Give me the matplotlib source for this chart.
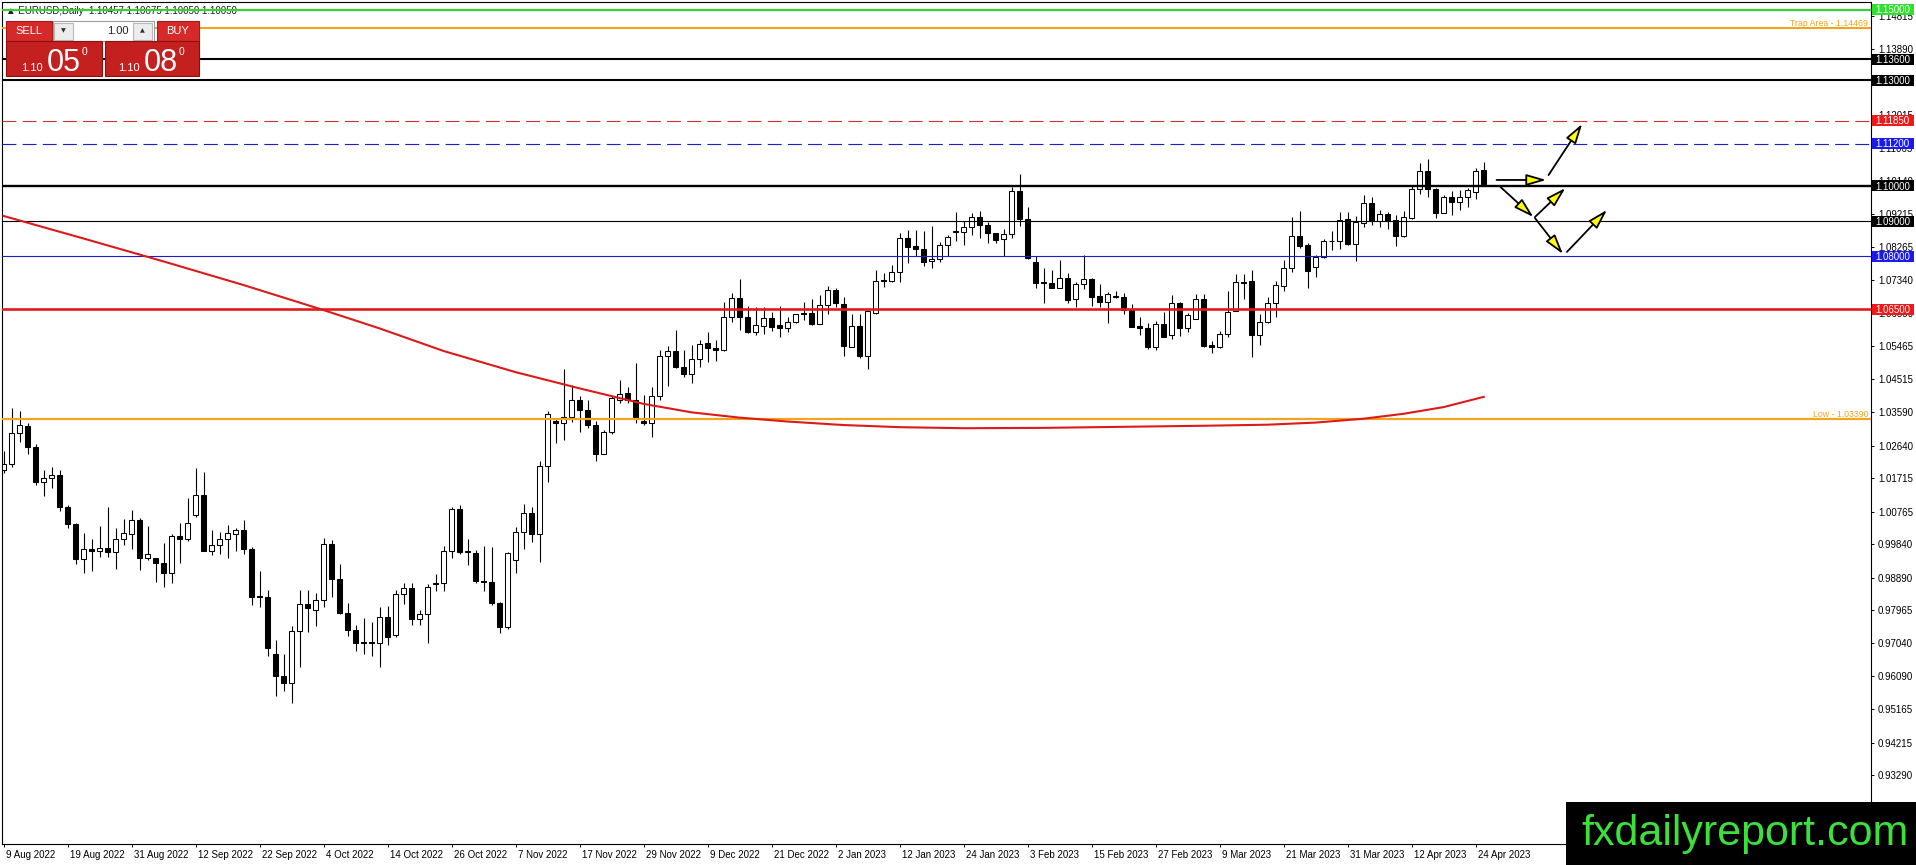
import matplotlib
matplotlib.use("Agg")
import matplotlib.pyplot as plt
import matplotlib.transforms as mtransforms
from matplotlib.patches import Rectangle, FancyArrowPatch
import numpy as np

plt.rcParams['font.family'] = ['Liberation Sans', 'DejaVu Sans']
plt.rcParams['lines.scale_dashes'] = False

W, H, DPI = 1916, 865, 100

# EURUSD daily candles, 9 Aug 2022 .. 25 Apr 2023
opens = [
    1.0195, 1.0212, 1.0299, 1.0319, 1.0259, 1.0161, 1.0171, 1.0179, 1.0089, 1.0040,
    0.9941, 0.9970, 0.9964, 0.9972, 0.9963, 0.9998, 1.0012, 1.0053, 0.9944, 0.9944,
    0.9930, 0.9903, 1.0007, 0.9998, 1.0066, 1.0123, 0.9966, 0.9981, 0.9998, 1.0012,
    1.0024, 0.9970, 0.9837, 0.9835, 0.9672, 0.9610, 0.9591, 0.9737, 0.9814, 0.9798,
    0.9825, 0.9984, 0.9885, 0.9790, 0.9741, 0.9706, 0.9706, 0.9703, 0.9777, 0.9727,
    0.9843, 0.9859, 0.9771, 0.9785, 0.9875, 0.9873, 0.9966, 1.0084, 0.9965, 0.9958,
    0.9881, 0.9876, 0.9816, 0.9748, 0.9939, 1.0020, 1.0072, 1.0012, 1.0207, 1.0334,
    1.0327, 1.0346, 1.0393, 1.0365, 1.0322, 1.0239, 1.0301, 1.0393, 1.0412, 1.0393,
    1.0334, 1.0329, 1.0404, 1.0518, 1.0532, 1.0488, 1.0466, 1.0508, 1.0554, 1.0540,
    1.0534, 1.0629, 1.0681, 1.0629, 1.0587, 1.0604, 1.0625, 1.0605, 1.0596, 1.0613,
    1.0639, 1.0639, 1.0609, 1.0662, 1.0705, 1.0664, 1.0544, 1.0603, 1.0519, 1.0639,
    1.0733, 1.0731, 1.0755, 1.0852, 1.0830, 1.0820, 1.0787, 1.0792, 1.0832, 1.0872,
    1.0870, 1.0885, 1.0913, 1.0890, 1.0866, 1.0849, 1.0863, 1.0987, 1.0907, 1.0785,
    1.0727, 1.0724, 1.0711, 1.0738, 1.0679, 1.0721, 1.0735, 1.0688, 1.0672, 1.0688,
    1.0684, 1.0648, 1.0603, 1.0596, 1.0544, 1.0609, 1.0576, 1.0667, 1.0596, 1.0624,
    1.0679, 1.0549, 1.0542, 1.0580, 1.0646, 1.0729, 1.0731, 1.0576, 1.0613, 1.0667,
    1.0717, 1.0767, 1.0858, 1.0833, 1.0769, 1.0798, 1.0845, 1.0843, 1.0905, 1.0836,
    1.0894, 1.0951, 1.0902, 1.0921, 1.0904, 1.0859, 1.0910, 1.0991, 1.1043, 1.0991,
    1.0924, 1.0970, 1.0954, 1.0968, 1.0984, 1.1046,
]
highs = [
    1.0247, 1.0369, 1.0363, 1.0327, 1.0267, 1.0195, 1.0202, 1.0195, 1.0094, 1.0045,
    1.0017, 0.9998, 1.0036, 1.0089, 1.0029, 1.0055, 1.0081, 1.0058, 1.0036, 0.9946,
    0.9987, 1.0013, 1.0043, 1.0114, 1.0199, 1.0189, 1.0024, 1.0020, 1.0039, 1.0031,
    1.0053, 0.9977, 0.9909, 0.9854, 0.9712, 0.9673, 0.9752, 0.9854, 0.9854, 0.9845,
    1.0003, 0.9996, 0.9928, 0.9816, 0.9755, 0.9774, 0.9763, 0.9805, 0.9809, 0.9854,
    0.9875, 0.9873, 0.9798, 0.9871, 0.9900, 0.9979, 1.0089, 1.0095, 0.9998, 0.9968,
    0.9979, 0.9977, 0.9821, 0.9963, 1.0034, 1.0097, 1.0089, 1.0221, 1.0362, 1.0343,
    1.0480, 1.0436, 1.0404, 1.0393, 1.0334, 1.0308, 1.0403, 1.0450, 1.0429, 1.0497,
    1.0407, 1.0429, 1.0535, 1.0546, 1.0592, 1.0535, 1.0548, 1.0563, 1.0587, 1.0563,
    1.0672, 1.0696, 1.0735, 1.0661, 1.0658, 1.0658, 1.0644, 1.0660, 1.0629, 1.0636,
    1.0672, 1.0679, 1.0691, 1.0715, 1.0712, 1.0686, 1.0637, 1.0637, 1.0648, 1.0762,
    1.0752, 1.0776, 1.0868, 1.0875, 1.0875, 1.0872, 1.0887, 1.0842, 1.0861, 1.0925,
    1.0901, 1.0924, 1.0929, 1.0897, 1.0866, 1.0877, 1.0998, 1.1034, 1.0939, 1.0800,
    1.0767, 1.0762, 1.0790, 1.0752, 1.0729, 1.0804, 1.0738, 1.0721, 1.0700, 1.0702,
    1.0697, 1.0665, 1.0627, 1.0612, 1.0618, 1.0644, 1.0691, 1.0672, 1.0639, 1.0693,
    1.0693, 1.0560, 1.0590, 1.0702, 1.0749, 1.0749, 1.0762, 1.0636, 1.0686, 1.0731,
    1.0790, 1.0911, 1.0930, 1.0837, 1.0804, 1.0851, 1.0873, 1.0927, 1.0927, 1.0915,
    1.0974, 1.0968, 1.0932, 1.0927, 1.0918, 1.0930, 1.1000, 1.1066, 1.1077, 1.0995,
    1.0974, 1.0986, 1.0989, 1.0995, 1.1050, 1.1068,
]
lows = [
    1.0187, 1.0202, 1.0275, 1.0240, 1.0152, 1.0121, 1.0144, 1.0079, 1.0031, 0.9927,
    0.9902, 0.9909, 0.9949, 0.9947, 0.9915, 0.9982, 0.9971, 0.9911, 0.9939, 0.9878,
    0.9864, 0.9875, 0.9930, 0.9994, 1.0062, 0.9966, 0.9954, 0.9956, 0.9946, 0.9966,
    0.9955, 0.9812, 0.9807, 0.9668, 0.9555, 0.9568, 0.9535, 0.9637, 0.9736, 0.9753,
    0.9807, 0.9835, 0.9786, 0.9725, 0.9682, 0.9672, 0.9668, 0.9635, 0.9698, 0.9720,
    0.9814, 0.9755, 0.9755, 0.9705, 0.9850, 0.9850, 0.9944, 0.9956, 0.9925, 0.9873,
    0.9852, 0.9812, 0.9731, 0.9743, 0.9903, 0.9971, 0.9991, 0.9935, 1.0161, 1.0272,
    1.0280, 1.0332, 1.0303, 1.0313, 1.0221, 1.0239, 1.0296, 1.0384, 1.0384, 1.0329,
    1.0322, 1.0289, 1.0393, 1.0433, 1.0483, 1.0459, 1.0442, 1.0488, 1.0502, 1.0505,
    1.0532, 1.0615, 1.0592, 1.0582, 1.0576, 1.0579, 1.0590, 1.0573, 1.0587, 1.0611,
    1.0620, 1.0606, 1.0608, 1.0637, 1.0658, 1.0518, 1.0542, 1.0513, 1.0481, 1.0637,
    1.0713, 1.0727, 1.0729, 1.0781, 1.0800, 1.0773, 1.0766, 1.0784, 1.0802, 1.0845,
    1.0833, 1.0861, 1.0852, 1.0837, 1.0839, 1.0802, 1.0852, 1.0887, 1.0792, 1.0710,
    1.0669, 1.0710, 1.0710, 1.0667, 1.0658, 1.0707, 1.0660, 1.0658, 1.0612, 1.0681,
    1.0637, 1.0599, 1.0577, 1.0537, 1.0535, 1.0571, 1.0565, 1.0575, 1.0587, 1.0622,
    1.0544, 1.0525, 1.0540, 1.0573, 1.0646, 1.0679, 1.0516, 1.0549, 1.0610, 1.0629,
    1.0702, 1.0757, 1.0823, 1.0712, 1.0743, 1.0795, 1.0819, 1.0821, 1.0833, 1.0788,
    1.0883, 1.0889, 1.0883, 1.0877, 1.0830, 1.0856, 1.0905, 1.0976, 1.0970, 1.0908,
    1.0922, 1.0918, 1.0932, 1.0939, 1.0962, 1.1005,
]
closes = [
    1.0212, 1.0299, 1.0322, 1.0259, 1.0161, 1.0171, 1.0179, 1.0089, 1.0040, 0.9941,
    0.9970, 0.9964, 0.9972, 0.9963, 0.9998, 1.0015, 1.0053, 0.9944, 0.9955, 0.9930,
    0.9903, 1.0007, 0.9998, 1.0043, 1.0123, 0.9966, 0.9982, 0.9998, 1.0015, 1.0023,
    0.9970, 0.9835, 0.9835, 0.9689, 0.9609, 0.9591, 0.9737, 0.9814, 0.9804, 0.9825,
    0.9984, 0.9885, 0.9790, 0.9741, 0.9703, 0.9703, 0.9703, 0.9777, 0.9722, 0.9842,
    0.9859, 0.9771, 0.9785, 0.9862, 0.9871, 0.9966, 1.0084, 0.9962, 0.9962, 0.9881,
    0.9876, 0.9816, 0.9748, 0.9958, 1.0020, 1.0072, 1.0012, 1.0207, 1.0352, 1.0327,
    1.0346, 1.0393, 1.0365, 1.0322, 1.0239, 1.0301, 1.0398, 1.0409, 1.0393, 1.0343,
    1.0329, 1.0404, 1.0518, 1.0532, 1.0488, 1.0466, 1.0508, 1.0551, 1.0540, 1.0534,
    1.0629, 1.0681, 1.0627, 1.0585, 1.0606, 1.0625, 1.0601, 1.0596, 1.0613, 1.0636,
    1.0636, 1.0609, 1.0662, 1.0705, 1.0667, 1.0547, 1.0603, 1.0518, 1.0646, 1.0731,
    1.0731, 1.0755, 1.0852, 1.0828, 1.0820, 1.0785, 1.0793, 1.0832, 1.0854, 1.0870,
    1.0885, 1.0913, 1.0889, 1.0868, 1.0847, 1.0863, 1.0987, 1.0907, 1.0795, 1.0724,
    1.0724, 1.0712, 1.0738, 1.0677, 1.0721, 1.0735, 1.0686, 1.0672, 1.0693, 1.0685,
    1.0648, 1.0601, 1.0596, 1.0544, 1.0609, 1.0573, 1.0667, 1.0596, 1.0634, 1.0679,
    1.0547, 1.0542, 1.0580, 1.0642, 1.0727, 1.0726, 1.0576, 1.0613, 1.0667, 1.0719,
    1.0768, 1.0858, 1.0831, 1.0760, 1.0798, 1.0844, 1.0843, 1.0904, 1.0836, 1.0899,
    1.0951, 1.0901, 1.0921, 1.0902, 1.0859, 1.0911, 1.0991, 1.1043, 1.0991, 1.0924,
    1.0970, 1.0954, 1.0968, 1.0989, 1.1043, 1.1005,
]

# moving average (red curve), read at these bar numbers
ma_bars = [0, 10, 20, 30, 40, 47, 55, 64, 72, 80, 86, 92, 98, 105, 112, 120,
           130, 140, 150, 158, 164, 170, 175, 180, 185]
ma_vals = [1.0915, 1.0851, 1.0786, 1.0719, 1.0648, 1.0596, 1.0532, 1.0472,
           1.0426, 1.0382, 1.0358, 1.0343, 1.0332, 1.0322, 1.0316, 1.0313,
           1.0314, 1.0317, 1.0320, 1.0323, 1.0329, 1.0340, 1.0354, 1.0373,
           1.0402]

# horizontal levels
level_prices = [1.15000, 1.14469, 1.13600, 1.13000, 1.11850, 1.11200,
                1.10000, 1.09000, 1.08000, 1.06500, 1.03390]
level_colors = ['#36d136', '#f2a41e', 'black', 'black', '#d03030', '#1c1cc8',
                'black', 'black', '#1c1cc8', '#e31b1b', '#f2a41e']
level_widths = [1.6, 1.5, 1.5, 1.5, 0.8, 0.8, 1.7, 0.8, 0.8, 1.9, 1.6]
level_dashed = [False, False, False, False, True, True, False, False, False, False, False]
box_colors = ['#2fe02f', None, 'black', 'black', '#f01818', '#1a1aee',
              'black', 'black', '#1a1aee', '#f01818', None]

# scenario arrows: (bar0, price0, bar1, price1)
arrows = [
    (186.6, 1.1017, 192.8, 1.1017),
    (193.1, 1.1031, 197.3, 1.1176),
    (187.1, 1.0997, 191.2, 1.0912),
    (191.4, 1.0912, 195.2, 1.0994),
    (191.4, 1.0909, 194.9, 1.0807),
    (195.4, 1.0813, 200.4, 1.0932),
]

ytick_vals = [1.14815, 1.13890, 1.12940, 1.12015, 1.11065, 1.10140, 1.09215,
              1.08265, 1.07340, 1.06390, 1.05465, 1.04515, 1.03590, 1.02640,
              1.01715, 1.00765, 0.99840, 0.98890, 0.97965, 0.97040, 0.96090,
              0.95165, 0.94215, 0.93290]
xtick_labels = ['9 Aug 2022', '19 Aug 2022', '31 Aug 2022', '12 Sep 2022',
                '22 Sep 2022', '4 Oct 2022', '14 Oct 2022', '26 Oct 2022',
                '7 Nov 2022', '17 Nov 2022', '29 Nov 2022', '9 Dec 2022',
                '21 Dec 2022', '2 Jan 2023', '12 Jan 2023', '24 Jan 2023',
                '3 Feb 2023', '15 Feb 2023', '27 Feb 2023', '9 Mar 2023',
                '21 Mar 2023', '31 Mar 2023', '12 Apr 2023', '24 Apr 2023']
xtick_pos = list(range(0, 8 * len(xtick_labels), 8))

header = '\u25b2 EURUSD,Daily  1.10457 1.10675 1.10050 1.10050'

fig = plt.figure(figsize=(W / DPI, H / DPI), dpi=DPI, facecolor='white')
ax = fig.add_axes([2 / W, (H - 844) / H, (1871 - 2) / W, (844 - 2.5) / H])
ax.set_xlim(-0.19, 233.4)
ax.set_ylim(0.91339, 1.15203)

o, hi, lo, c = map(np.array, (opens, highs, lows, closes))
x = np.arange(len(o))
up = c > o

# candles
ax.vlines(x, lo, hi, color='black', lw=0.8, zorder=2)
body_lo = np.minimum(o, c)
body_h = np.abs(c - o)
ax.bar(x[up], body_h[up], bottom=body_lo[up], width=0.6, facecolor='white',
       edgecolor='black', linewidth=0.75, zorder=2.2)
ax.bar(x[~up], body_h[~up], bottom=body_lo[~up], width=0.6, facecolor='black',
       edgecolor='black', linewidth=0.75, zorder=2.2)

# levels
for p, col, lw, dash in zip(level_prices, level_colors, level_widths, level_dashed):
    ls = (0, (10, 4.5)) if dash else '-'
    ax.axhline(p, color=col, lw=lw, ls=ls, zorder=3)

ax.plot(ma_bars, ma_vals, color='#dd1a1a', lw=1.5, zorder=3.5,
        solid_joinstyle='round')

for x0, y0, x1, y1 in arrows:
    ax.add_patch(FancyArrowPatch((x0, y0), (x1, y1),
                                 arrowstyle='-|>,head_length=12,head_width=3.5',
                                 mutation_scale=1, facecolor='#ffff00',
                                 edgecolor='black', lw=1.3, shrinkA=0, shrinkB=0,
                                 zorder=5))

trans = mtransforms.blended_transform_factory(ax.transAxes, ax.transData)
ax.text(0.9984, 1.14469, 'Trap Area - 1.14469', transform=trans, ha='right',
        va='bottom', fontsize=6.3, color='#f2a41e', zorder=4)
ax.text(0.9984, 1.03390, 'Low - 1.03390', transform=trans, ha='right',
        va='bottom', fontsize=6.3, color='#f2a41e', zorder=4)

ax.text(6 / W, 1 - 11.5 / H, header, transform=fig.transFigure, fontsize=7,
        color='#202020', va='center', ha='left', zorder=1, clip_on=False)

# axes look
for s in ax.spines.values():
    s.set_linewidth(0.8)
    s.set_color('black')
ax.yaxis.tick_right()
ax.set_yticks(ytick_vals)
ax.set_yticklabels([f'{v:.5f}' for v in ytick_vals])
ax.tick_params(axis='y', right=True, left=False, direction='out', length=2.5,
               width=0.7, pad=2.5, labelsize=7, colors='black')
ax.set_xticks(xtick_pos)
ax.set_xticklabels(xtick_labels, ha='left')
ax.tick_params(axis='x', direction='out', length=2.5, width=0.7, pad=2,
               labelsize=7, colors='black')
shift = mtransforms.ScaledTranslation(2 / DPI, 0, fig.dpi_scale_trans)
for lbl in ax.get_xticklabels():
    lbl.set_transform(lbl.get_transform() + shift)

# overlay in pixel coordinates (y down) for panel, price boxes and watermark
ov = fig.add_axes([0, 0, 1, 1])
ov.set_xlim(0, W)
ov.set_ylim(H, 0)
ov.axis('off')
ov.set_zorder(10)

for p, bc in zip(level_prices, box_colors):
    if bc is None:
        continue
    yp = H - ax.transData.transform((0, p))[1]
    ov.add_patch(Rectangle((1872, yp - 5.5), 42, 11, facecolor=bc, edgecolor=bc, lw=0))
    ov.text(1875.5, yp + 3.6, f'{p:.5f}', color='white', fontsize=7,
            ha='left', va='baseline')


def box(x0, y0, x1, y1, fc, ec, lw=0.8):
    ov.add_patch(Rectangle((x0, y0), x1 - x0, y1 - y0, facecolor=fc,
                           edgecolor=ec, lw=lw))


# one-click trading panel
box(6, 21, 52, 41, '#d62a2a', '#a81818')
ov.text(29, 31.5, 'SELL', color='white', fontsize=8, ha='center', va='center')
box(53, 21, 154, 41, 'white', '#9c9c9c')
box(54.5, 22.5, 73, 39.5, '#ececec', '#b8b8b8')
box(133, 22.5, 152.5, 39.5, '#ececec', '#b8b8b8')
ov.text(63.7, 31, '\u25bc', color='#303030', fontsize=4.5, ha='center', va='center',
        family=['DejaVu Sans'])
ov.text(142.7, 31, '\u25b2', color='#303030', fontsize=4.5, ha='center', va='center',
        family=['DejaVu Sans'])
ov.text(129, 31.5, '1.00', color='#202020', fontsize=8, ha='right', va='center')
box(157, 21, 199, 41, '#d62a2a', '#a81818')
ov.text(178, 31.5, 'BUY', color='white', fontsize=8, ha='center', va='center')

box(6, 41, 102, 76, '#c42020', '#8c1010')
box(105, 41, 199, 76, '#c42020', '#8c1010')
for bx, big in ((21, '05'), (118, '08')):
    ov.text(bx, 71, '1.10', color='white', fontsize=8, ha='left', va='baseline')
    ov.text(bx + 26, 71, big, color='white', fontsize=22, ha='left', va='baseline')
    ov.text(bx + 61, 55, '0', color='white', fontsize=7.5, ha='left', va='baseline')

# watermark
box(1566, 802, 1916, 865, 'black', 'black', lw=0)
ov.text(1581, 845, 'fxdailyreport.com', color='#3ce03c', fontsize=31,
        ha='left', va='baseline')

fig.savefig('out.png', dpi=DPI, facecolor='white')
